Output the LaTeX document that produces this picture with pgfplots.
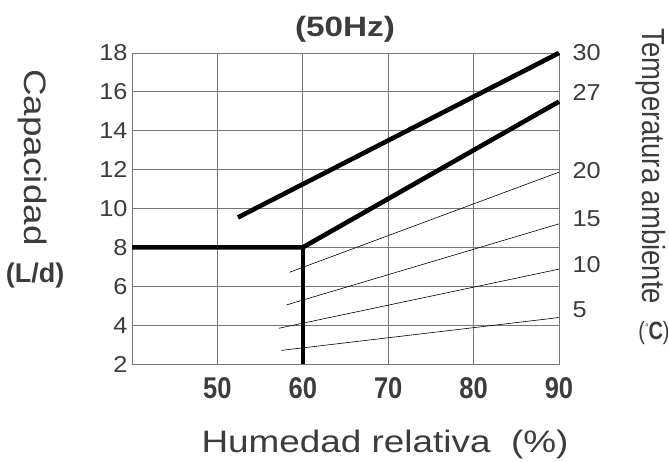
\documentclass[border=0pt]{standalone}
\usepackage{pgfplots}
\pgfplotsset{compat=1.18}
\usepackage{fontspec}
\setmainfont{Liberation Sans}
\newfontfamily\widef[FakeStretch=1.19]{Liberation Sans}
\newfontfamily\narrowf[FakeStretch=0.85]{Liberation Sans}
\newfontfamily\tickf[FakeStretch=1.1]{Liberation Sans}
\newfontfamily\tempf[FakeStretch=0.86]{Liberation Sans}
\newfontfamily\condf[FakeStretch=0.8]{Liberation Sans}
\definecolor{txt}{HTML}{3C3C3C}
\definecolor{thick}{HTML}{404040}
\definecolor{gridc}{HTML}{777777}
\definecolor{thin}{HTML}{8A8A8A}
\begin{document}
\begin{tikzpicture}
\path[use as bounding box] (0,0) rectangle (669pt,461pt);
\begin{axis}[
  at={(132pt,97pt)}, anchor=south west,
  scale only axis, width=427pt, height=311pt,
  xmin=40, xmax=90, ymin=2, ymax=18,
  xtick={40,50,60,70,80,90},
  xticklabels={,50,60,70,80,90},
  ytick={2,4,6,8,10,12,14,16,18},
  yticklabels={2,4,6,8,10,12,14,16,18},
  major tick length=0pt,
  grid=major,
  major grid style={gridc, line width=0.9pt},
  axis line style={gridc, line width=0.9pt},
  xticklabel style={font=\narrowf\fontsize{30}{30}\selectfont\bfseries, text=txt, yshift=-10pt},
  yticklabel style={font=\tickf\fontsize{23}{23}\selectfont, text=txt, xshift=-1pt},
  clip=false,
]
\addplot[thin, line width=0.6pt] coordinates {(58.45,6.72) (90,11.87)};
\addplot[thin, line width=0.6pt] coordinates {(58.1,5.04) (90,9.21)};
\addplot[thin, line width=0.6pt] coordinates {(57.2,3.84) (90,6.88)};
\addplot[thin, line width=0.6pt] coordinates {(57.5,2.70) (90,4.39)};
\addplot[thick, line width=4.6pt] coordinates {(52.4,9.54) (90,18)};
\addplot[thick, line width=4.6pt, line join=miter] coordinates {(40,8) (60,8) (90,15.5)};
\addplot[thick, line width=4.6pt] coordinates {(60,8) (60,2)};
\end{axis}
\begin{axis}[
  at={(132pt,97pt)}, anchor=south west,
  scale only axis, width=427pt, height=311pt,
  xmin=40, xmax=90, ymin=2, ymax=18,
  axis x line=none,
  axis y line*=right,
  axis line style={draw=none},
  ytick={18,15.97,11.93,9.46,7.09,4.78},
  yticklabels={30,27,20,15,10,5},
  major tick length=0pt,
  yticklabel style={font=\tickf\fontsize{23}{23}\selectfont, text=txt, anchor=west, xshift=10pt},
]
\addplot[draw=none] coordinates {(40,2) (90,18)};
\end{axis}
\node[text=txt, font=\widef\fontsize{28}{28}\selectfont\bfseries] at (345pt,432pt) {(50Hz)};
\node[text=txt, font=\widef\fontsize{31}{31}\selectfont, rotate=-90] at (33pt,303.5pt) {Capacidad};
\node[text=txt, font=\fontsize{27}{27}\selectfont\bfseries] at (35pt,185pt) {(L/d)};
\node[text=txt, font=\widef\fontsize{31}{31}\selectfont, anchor=base] at (385pt,9pt) {Humedad relativa\ \ (\%)};
\node[text=txt, font=\tempf\fontsize{32}{32}\selectfont, rotate=-90] at (651pt,294.5pt) {Temperatura ambiente};
\node[text=txt, font=\condf\fontsize{25}{25}\selectfont, inner sep=0pt] at (654pt,128pt) {(\raisebox{0.3em}{\fontsize{11}{11}\selectfont °}\textbf{C})};
\end{tikzpicture}
\end{document}
